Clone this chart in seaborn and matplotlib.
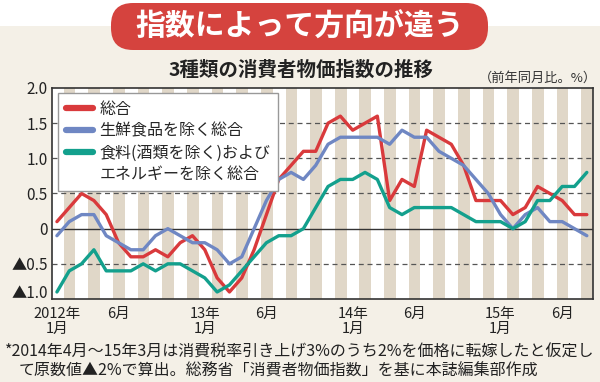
import pandas as pd
import matplotlib
matplotlib.use('Agg')
import matplotlib.pyplot as plt
import matplotlib.transforms as mtransforms
from matplotlib.patches import FancyBboxPatch, Rectangle
from matplotlib.lines import Line2D
import seaborn as sns

# 2012年1月〜2015年8月 (44か月), 前年同月比 %
months = list(range(44))
headline = [0.1, 0.3, 0.5, 0.4, 0.2, -0.2, -0.4, -0.4, -0.3, -0.4, -0.2, -0.1,
            -0.3, -0.7, -0.9, -0.7, -0.3, 0.2, 0.7, 0.9, 1.1, 1.1, 1.5, 1.6,
            1.4, 1.5, 1.6, 0.4, 0.7, 0.6, 1.4, 1.3, 1.2, 0.9, 0.4, 0.4,
            0.4, 0.2, 0.3, 0.6, 0.5, 0.4, 0.2, 0.2]
core = [-0.1, 0.1, 0.2, 0.2, -0.1, -0.2, -0.3, -0.3, -0.1, 0.0, -0.1, -0.2,
        -0.2, -0.3, -0.5, -0.4, 0.0, 0.4, 0.7, 0.8, 0.7, 0.9, 1.2, 1.3,
        1.3, 1.3, 1.3, 1.2, 1.4, 1.3, 1.3, 1.1, 1.0, 0.9, 0.7, 0.5,
        0.2, 0.0, 0.2, 0.3, 0.1, 0.1, 0.0, -0.1]
core_core = [-0.9, -0.6, -0.5, -0.3, -0.6, -0.6, -0.6, -0.5, -0.6, -0.5, -0.5, -0.6,
             -0.7, -0.9, -0.8, -0.6, -0.4, -0.2, -0.1, -0.1, 0.0, 0.3, 0.6, 0.7,
             0.7, 0.8, 0.7, 0.3, 0.2, 0.3, 0.3, 0.3, 0.3, 0.2, 0.1, 0.1,
             0.1, 0.0, 0.1, 0.4, 0.4, 0.6, 0.6, 0.8]

series_names = ['総合', '生鮮食品を除く総合', '食料(酒類を除く)および\nエネルギーを除く総合']
colors = ['#d93a3c', '#6f87c3', '#13a08d']

xtick_pos = [0, 5, 12, 17, 24, 29, 36, 41]
xtick_labels = ['2012年\n1月', '6月', '13年\n1月', '6月', '14年\n1月', '6月', '15年\n1月', '6月']
ytick_vals = [2.0, 1.5, 1.0, 0.5, 0, -0.5, -1.0]
ytick_labels = ['2.0', '1.5', '1.0', '0.5', '0', '▲0.5', '▲1.0']

sns.set_style('white')
plt.rcParams['font.family'] = ['Noto Sans CJK JP', 'DejaVu Sans']

df = pd.DataFrame({
    'month': months * 3,
    'value': headline + core + core_core,
    'series': [n for n in series_names for _ in months],
})

bg = '#f4f0e7'
fig = plt.figure(figsize=(6, 3.82), dpi=100, facecolor=bg)

# 上部の白帯とタイトル帯
fig.patches.append(Rectangle((0, 3.56), 6, 0.3, transform=fig.dpi_scale_trans,
                             fc='white', ec='none', zorder=0))
fig.patches.append(FancyBboxPatch((1.11, 3.32), 3.77, 0.47, transform=fig.dpi_scale_trans,
                                  boxstyle='round,pad=0,rounding_size=0.22',
                                  fc='#d5433e', ec='none', zorder=1))
fig.text(0.5, 1 - 26.5 / 382, '指数によって方向が違う', ha='center', va='center',
         fontsize=21.5, weight='bold', color='white')
fig.text(0.502, 1 - 70 / 382, '3種類の消費者物価指数の推移', ha='center', va='center',
         fontsize=14, weight='bold', color='#222222')
fig.text(597 / 600, 1 - 78 / 382, '（前年同月比。%）', ha='right', va='center',
         fontsize=9.5, color='#333333')

ax = fig.add_axes([52 / 600, 1 - 299 / 382, 541 / 600, 211 / 382])
ax.set_facecolor('white')

# 月ごとの縞
for k in range(1, 44, 2):
    ax.axvspan(k - 0.45, k + 0.5, color='#e0d7c8', lw=0, zorder=0)

for v in [1.5, 1.0, 0.5, -0.5]:
    ax.axhline(v, color='#555555', ls=(0, (4, 3)), lw=0.9, zorder=1)
ax.axhline(0, color='#333333', lw=1.0, zorder=1)

sns.lineplot(data=df, x='month', y='value', hue='series', hue_order=series_names,
             palette=colors, linewidth=2.4, legend=False, ax=ax, zorder=3)

ax.set_xlim(-0.4, 43.5)
ax.set_ylim(-0.97, 2.0)
ax.set_xticks(xtick_pos, xtick_labels, fontsize=10.5, linespacing=1.05)
ax.set_yticks(ytick_vals, ytick_labels, fontsize=11)
ax.tick_params(length=0, colors='#222222')
ax.tick_params(axis='x', pad=6)
ax.tick_params(axis='y', pad=3)
ax.set_xlabel('')
ax.set_ylabel('')
for s in ax.spines.values():
    s.set_visible(True)
    s.set_color('#333333')
    s.set_linewidth(1.2)

# 一番下の目盛りラベルは少し上へ
lowest = ax.get_yticklabels()[-1]
lowest.set_transform(lowest.get_transform() +
                     mtransforms.ScaledTranslation(0, 7 / 100, fig.dpi_scale_trans))

# 凡例（3番目は2行）
leg_labels = series_names[:2] + series_names[2].split('\n')
handles = [Line2D([0], [0], color=c, lw=4.5) for c in colors] + [Line2D([0], [0], color='none')]
leg = ax.legend(handles, leg_labels, loc='upper left', bbox_to_anchor=(0.011, 0.976),
                borderaxespad=0, fontsize=11.5, frameon=True, fancybox=False,
                framealpha=1, edgecolor='#999999', handlelength=1.7,
                handletextpad=0.4, labelspacing=0.3, borderpad=0.5)
leg.get_frame().set_linewidth(1.0)
leg.set_zorder(5)

fig.text(5 / 600, 1 - 352 / 382,
         '*2014年4月～15年3月は消費税率引き上げ3%のうち2%を価格に転嫁したと仮定し',
         ha='left', va='center', fontsize=11.5, color='#222222')
fig.text(19 / 600, 1 - 371 / 382,
         'て原数値▲2%で算出。総務省「消費者物価指数」を基に本誌編集部作成',
         ha='left', va='center', fontsize=11.5, color='#222222')

fig.savefig('out.png', dpi=100, facecolor=fig.get_facecolor())
